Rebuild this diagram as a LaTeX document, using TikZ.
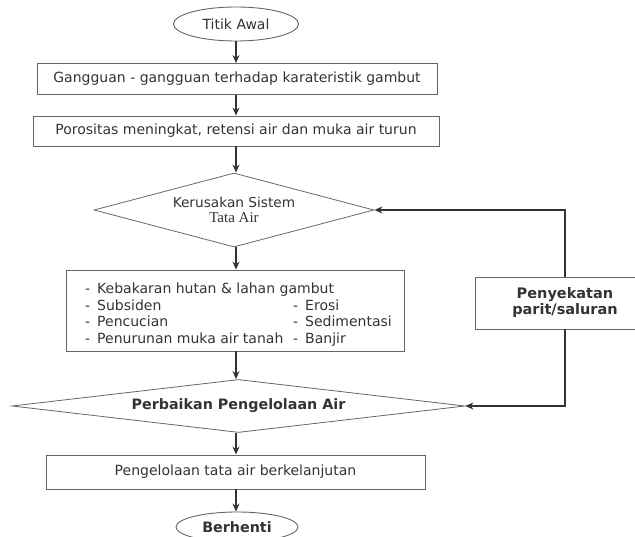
\documentclass[tikz,border=0pt]{standalone}
\usepackage{fontspec}
\setmainfont{DejaVu Sans}
\newfontfamily\serifx{Liberation Serif}
\usetikzlibrary{shapes.geometric,arrows.meta}
\begin{document}
\begin{tikzpicture}[x=1pt,y=-1pt,
  every node/.style={text=black!80, font=\fontsize{14}{16}\selectfont},
  box/.style={draw=black!60, line width=0.9pt, rectangle, inner sep=0pt},
  term/.style={draw=black!60, line width=0.9pt, ellipse, inner sep=0pt},
  dec/.style={draw=black!60, line width=0.8pt, diamond, inner sep=0pt, aspect=4},
  arr/.style={draw=black!80, line width=1.2pt, -{Stealth[length=8pt,width=7pt]}},
  item/.style={anchor=base west, inner sep=0pt}]
\clip (0,0) rectangle (635,537);
\node[term, minimum width=125pt, minimum height=34pt] (start) at (236,24) {Titik Awal};
\node[box, minimum width=400pt, minimum height=31pt] (b1) at (237,79) {Gangguan - gangguan terhadap karateristik gambut};
\node[box, minimum width=406pt, minimum height=30pt] (b2) at (236,131) {Porositas meningkat, retensi air dan muka air turun};
\node[dec, minimum width=280pt, minimum height=74pt, align=center, font=\fontsize{13.7}{15}\selectfont] (d1) at (234,210) {Kerusakan Sistem\\{\serifx\fontsize{15}{15}\selectfont Tata Air}};
\node[box, minimum width=338pt, minimum height=81pt] (b3) at (235,310.5) {};
\node[item] (i1) at (85,294) {\makebox[12pt][l]{-}Kebakaran hutan \& lahan gambut};
\node[item] (i2) at (85,311) {\makebox[12pt][l]{-}Subsiden};
\node[item] (i3) at (85,327) {\makebox[12pt][l]{-}Pencucian};
\node[item] (i4) at (85,344) {\makebox[12pt][l]{-}Penurunan muka air tanah};
\node[item] (i5) at (293,311) {\makebox[12pt][l]{-}Erosi};
\node[item] (i6) at (293,327) {\makebox[12pt][l]{-}Sedimentasi};
\node[item] (i7) at (293,344) {\makebox[12pt][l]{-}Banjir};
\node[box, minimum width=180pt, minimum height=52pt, align=center, font=\fontsize{14.5}{16}\selectfont\bfseries] (side) at (565,303) {Penyekatan\\parit/saluran};
\node[dec, aspect=8.5, minimum width=453pt, minimum height=53pt, font=\fontsize{14.3}{16}\selectfont\bfseries] (d2) at (238.5,406) {Perbaikan Pengelolaan Air};
\node[box, minimum width=379pt, minimum height=34pt] (b4) at (235.5,472) {Pengelolaan tata air berkelanjutan};
\node[term, minimum width=122pt, minimum height=30pt, font=\fontsize{14.3}{16}\selectfont\bfseries] (end) at (237,527) {Berhenti};
\draw[arr] (start.south) -- (start.south |- b1.north);
\draw[arr] (b1.south -| start.south) -- (start.south |- b2.north);
\draw[arr] (b2.south -| start.south) -- (start.south |- d1.north);
\draw[arr] (d1.south -| start.south) -- (start.south |- b3.north);
\draw[arr] (b3.south -| start.south) -- (start.south |- d2.north);
\draw[arr] (d2.south -| start.south) -- (start.south |- b4.north);
\draw[arr] (b4.south -| start.south) -- (start.south |- end.north);
\draw[arr] (side.north) |- (d1.east);
\draw[arr] (side.south) |- (d2.east);
\end{tikzpicture}
\end{document}
